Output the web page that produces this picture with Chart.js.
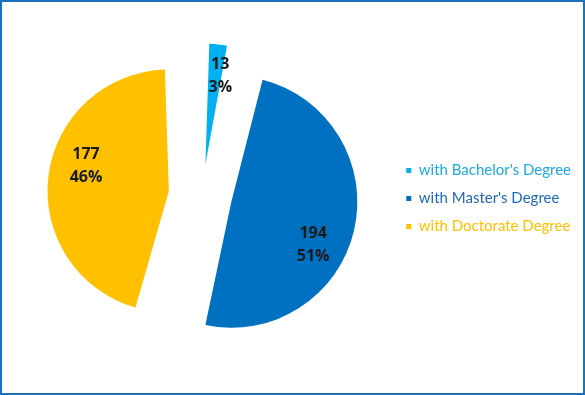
<!DOCTYPE html>
<html>
<head>
<meta charset="utf-8">
<script src="https://cdn.jsdelivr.net/npm/chart.js@4.4.1/dist/chart.umd.min.js"></script>
<style>
  html, body { margin: 0; padding: 0; background: #fff; }
  #frame { width: 585px; height: 395px; box-sizing: border-box; border: 2px solid #1c6fc1; background: #fff; }
  #frame canvas { display: block; }
</style>
</head>
<body>
<div id="frame"><canvas id="pie" width="581" height="391"></canvas></div>
<script>
// ── Datos ──
const degreeLabels = ["with Bachelor's Degree", "with Master's Degree", "with Doctorate Degree"];
const degreeCounts = [13, 194, 177];
const sliceColors  = ['#00b0f0', '#0070c0', '#ffc000'];
const legendText   = ['#1fa9e3', '#1f68b4', '#ffc000'];

const total = degreeCounts.reduce((a, b) => a + b, 0);

// Etiquetas "valor / %" dentro de cada porción
const sliceLabels = {
  id: 'sliceLabels',
  afterDatasetsDraw(chart) {
    const { ctx } = chart;
    const meta = chart.getDatasetMeta(0);
    ctx.save();
    ctx.font = 'bold 16px "Open Sans"';
    ctx.fillStyle = '#1a1a1a';
    ctx.textAlign = 'center';
    ctx.textBaseline = 'middle';
    meta.data.forEach((arc, i) => {
      const { x, y, startAngle, endAngle, outerRadius, circumference } =
        arc.getProps(['x', 'y', 'startAngle', 'endAngle', 'outerRadius', 'circumference'], true);
      const shift = (arc.options.offset || 0) / 4;
      const mid = (startAngle + endAngle) / 2;
      const fix = 1 - Math.sin(Math.min(Math.PI, circumference));
      // porciones finas: etiqueta más hacia fuera
      const frac = 0.72 + 0.06 * Math.max(0, 1 - circumference / Math.PI);
      const r = (outerRadius + shift * fix) * frac;
      const a = mid + Math.min(Math.PI * 12.5 / 180, circumference / 4);
      const cx = x + Math.cos(mid) * shift + Math.cos(a) * r;
      const cy = y + Math.sin(mid) * shift + Math.sin(a) * r + 4;
      const pct = Math.round(degreeCounts[i] / total * 100) + '%';
      ctx.fillText(String(degreeCounts[i]), cx, cy - 11.5);
      ctx.fillText(pct, cx, cy + 11.5);
    });
    ctx.restore();
  }
};

new Chart(document.getElementById('pie').getContext('2d'), {
  type: 'pie',
  data: {
    labels: degreeLabels,
    datasets: [{
      data: degreeCounts,
      backgroundColor: sliceColors,
      borderWidth: 0,
      offset: [124, 120, 134],
      hoverOffset: 0,
    }],
  },
  options: {
    responsive: false,
    animation: false,
    radius: 96,
    layout: { padding: { left: 9, right: 2, top: 0, bottom: 5 } },
    plugins: {
      tooltip: { enabled: false },
      legend: {
        position: 'right',
        // título vacío: solo empuja la leyenda unos px hacia abajo
        title: { display: true, text: '', font: { size: 1 }, padding: { top: 0, bottom: 6 } },
        labels: {
          usePointStyle: true,
          pointStyle: 'rect',
          boxWidth: 5,
          boxHeight: 5,
          padding: 13,
          font: { family: 'Lato', size: 15 },
          generateLabels: (chart) => degreeLabels.map((t, i) => ({
            text: t,
            fillStyle: sliceColors[i],
            strokeStyle: sliceColors[i],
            lineWidth: 0,
            pointStyle: 'rect',
            fontColor: legendText[i],
            index: i,
            hidden: false,
          })),
        },
      },
    },
  },
  plugins: [sliceLabels],
});
</script>
</body>
</html>
